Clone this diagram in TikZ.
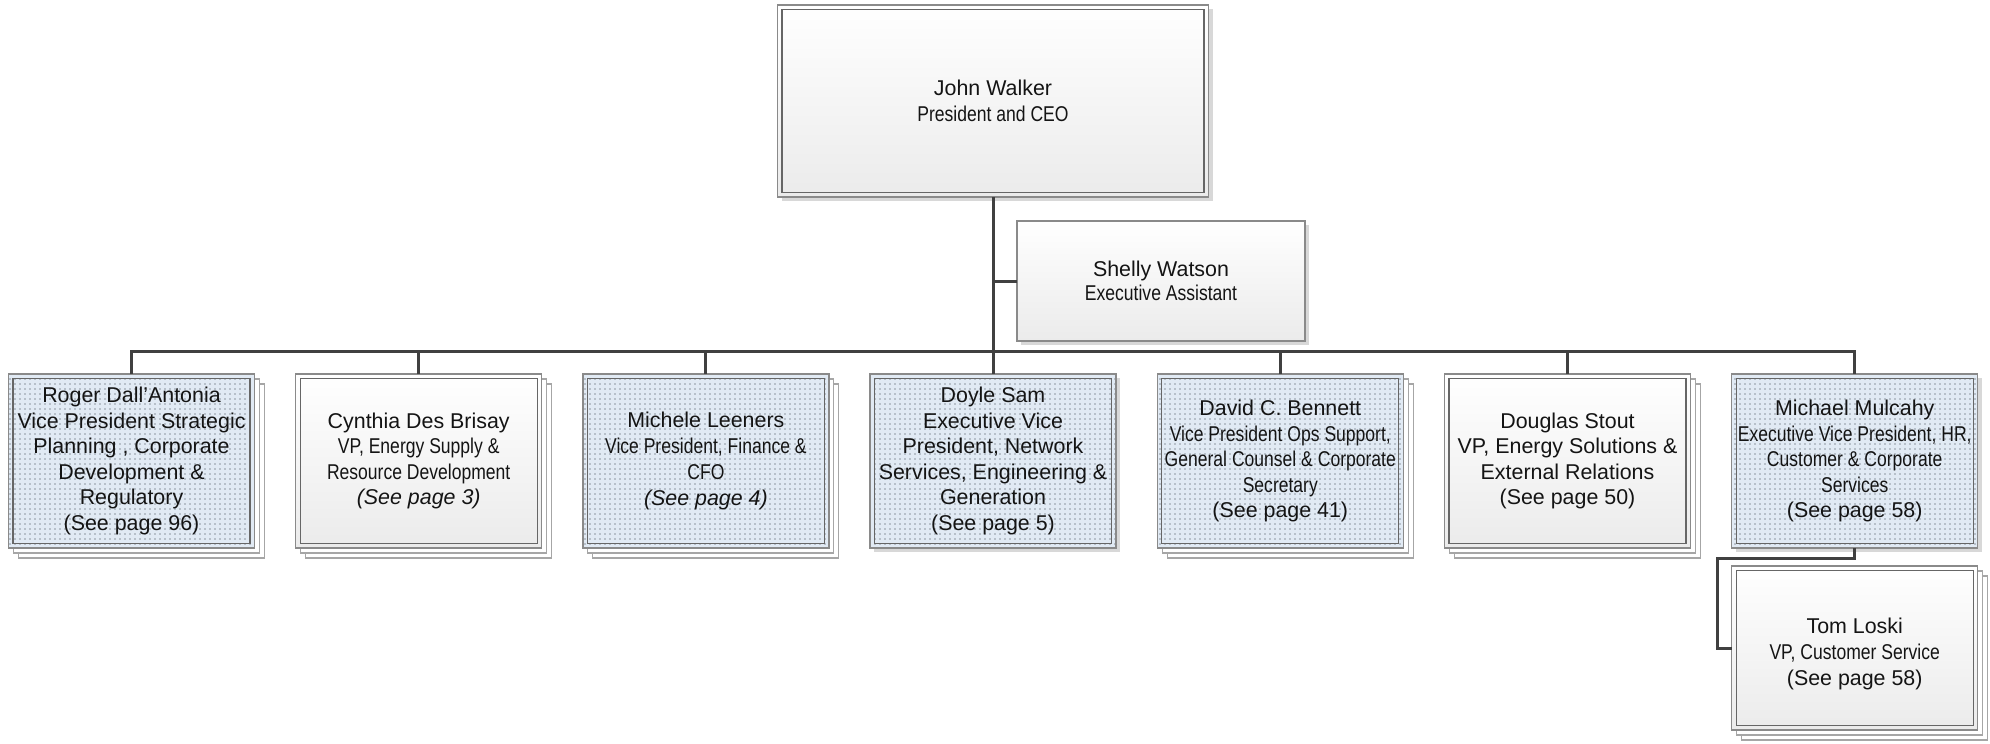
\documentclass[tikz,border=0pt]{standalone}
\usepackage{fontspec}
\setmainfont{Liberation Sans}
\newfontfamily\narrow[FakeStretch=0.82]{Liberation Sans}
\usetikzlibrary{patterns.meta,backgrounds,calc}

\definecolor{wire}{HTML}{404040}
\definecolor{rimout}{HTML}{8A8A8A}
\definecolor{rimin}{HTML}{666666}
\definecolor{dotblue}{HTML}{E1EAF4}
\definecolor{dotgray}{HTML}{8C959F}
\definecolor{shadebottom}{HTML}{EBEBEB}
\definecolor{shadowgray}{HTML}{D8D8D8}
\definecolor{layerrim}{HTML}{A6A6A6}

\tikzset{
  card/.style={draw=rimout, line width=1.3pt, outer sep=0pt, inner sep=0pt,
    align=center, text=black!92, font=\fontsize{21.4}{25.5}\selectfont},
  plaincard/.style={card, top color=white, bottom color=shadebottom},
  dotcard/.style={card, preaction={fill=dotblue},
    pattern={Dots[distance=5pt,radius=0.9pt]}, pattern color=dotgray},
  unit/.style={minimum width=246pt, minimum height=174pt},
  inframe/.style={draw=rimin, line width=1.2pt},
  layer/.style={draw=layerrim, line width=1.1pt, fill=white},
  dropshadow/.style={fill=shadowgray, draw=none},
  link/.style={draw=wire, line width=3pt},
}

% inner rule of a double-framed card
\newcommand\innerframe[1]{%
  \draw[inframe] ([shift={(4.5,4.5)}]#1.north west) rectangle ([shift={(-4.5,-4.5)}]#1.south east);}
% soft drop shadow behind a card
\newcommand\dropbehind[1]{%
  \fill[dropshadow] ([shift={(4,4)}]#1.north west) rectangle ([shift={(4,4)}]#1.south east);}
% two sheets stacked behind a card
\newcommand\stackbehind[1]{%
  \foreach \d in {10,5}{%
    \draw[layer] ([shift={(\d,\d)}]#1.north west) rectangle ([shift={(\d,\d)}]#1.south east);}}

\begin{document}
\begin{tikzpicture}[x=1pt, y=-1pt]
\useasboundingbox (0,0) rectangle (1990,744);

% top of the chart
\node[plaincard, minimum width=431pt, minimum height=192pt,
      font=\fontsize{21.4}{26}\selectfont] (ceo) at (993,101)
  {John Walker\\{\narrow President and CEO}};
\node[plaincard, minimum width=288pt, minimum height=120pt,
      font=\fontsize{21.4}{24}\selectfont] (shelly) at (1161,281)
  {Shelly Watson\\{\narrow Executive Assistant}};

% direct reports
\node[dotcard, unit] (roger) at (131.5,461)
  {Roger Dall’Antonia\\Vice President Strategic\\Planning , Corporate\\Development \&\\Regulatory\\(See page 96)};
\node[plaincard, unit] (cynthia) at (418.7,461)
  {Cynthia Des Brisay\\{\narrow VP, Energy Supply \&}\\{\narrow Resource Development}\\{\itshape (See page 3)}};
\node[dotcard, unit, font=\fontsize{21.4}{26}\selectfont] (michele) at (705.9,461)
  {Michele Leeners\\{\narrow Vice President, Finance \&}\\{\narrow CFO}\\{\itshape (See page 4)}};
\node[dotcard, unit] (doyle) at (993,461)
  {Doyle Sam\\Executive Vice\\President, Network\\Services, Engineering \&\\Generation\\(See page 5)};
\node[dotcard, unit] (david) at (1280.3,461)
  {David C. Bennett\\{\narrow Vice President Ops Support,}\\{\narrow General Counsel \& Corporate}\\{\narrow Secretary}\\(See page 41)};
\node[plaincard, unit] (douglas) at (1567.5,461)
  {Douglas Stout\\VP, Energy Solutions \&\\External Relations\\(See page 50)};
\node[dotcard, unit] (michael) at (1854.7,461)
  {Michael Mulcahy\\{\narrow Executive Vice President, HR,}\\{\narrow Customer \& Corporate}\\{\narrow Services}\\(See page 58)};
\node[plaincard, unit, minimum height=164pt, font=\fontsize{21.4}{26}\selectfont,
      text height=79pt] (tom) at (1854.7,648)
  {Tom Loski\\{\narrow VP, Customer Service}\\(See page 58)};

% inner rules
\foreach \n in {ceo,roger,cynthia,michele,doyle,david,douglas,michael,tom}{\innerframe{\n}}

% shadows and stacked sheets
\begin{scope}[on background layer]
  \dropbehind{ceo}
  \dropbehind{shelly}
  \dropbehind{doyle}
  \dropbehind{michael}
  \foreach \n in {roger,cynthia,michele,david,douglas,tom}{\stackbehind{\n}}
\end{scope}

% reporting lines
\coordinate (bus) at (993,351);
\draw[link] (ceo.south) -- (doyle.north);
\draw[link] (shelly.west) -- (shelly.west -| ceo.south);
\draw[link] (roger.north) -- (roger.north |- bus) -- (michael.north |- bus) -- (michael.north);
\foreach \n in {cynthia,michele,david,douglas}{\draw[link] (\n.north) -- (\n.north |- bus);}
\draw[link] (michael.south) -- ++(0,10) -| ([xshift=-14pt]tom.west) -- (tom.west);
\end{tikzpicture}
\end{document}
